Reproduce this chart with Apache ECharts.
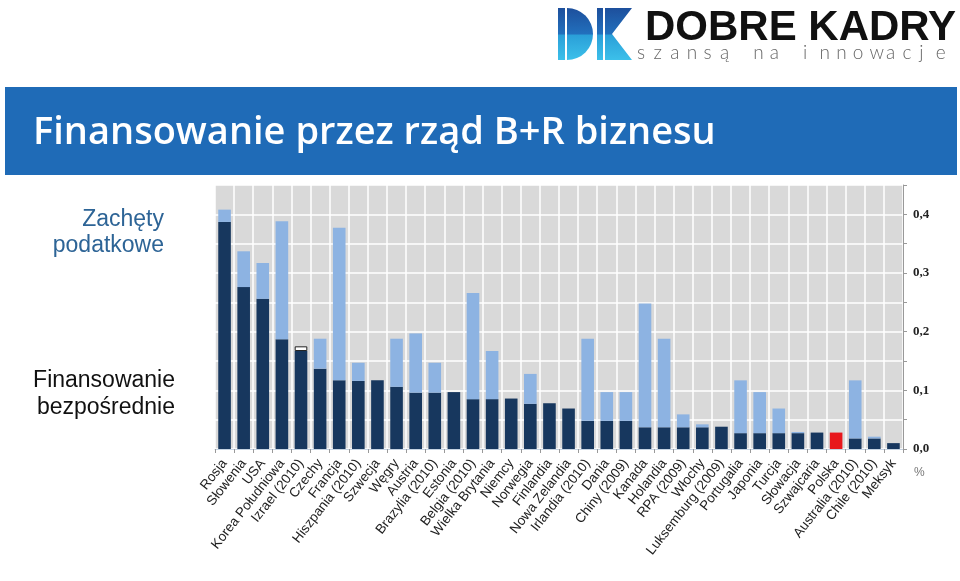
<!DOCTYPE html>
<html>
<head>
<meta charset="utf-8">
<title>Finansowanie przez rząd B+R biznesu</title>
<script src="https://cdn.jsdelivr.net/npm/echarts@6/dist/echarts.min.js"></script>
<style>
	html, body { margin: 0; padding: 0; background: #fff; }
	#chart { width: 960px; height: 581px; }
</style>
</head>
<body>
<div id="chart"></div>
<script>
// kraje (kolejność jak na wykresie)
const countries = [
	'Rosja', 'Słowenia', 'USA', 'Korea Południowa', 'Izrael (2010)', 'Czechy', 'Francja',
	'Hiszpania (2010)', 'Szwecja', 'Węgry', 'Austria', 'Brazylia (2010)', 'Estonia',
	'Belgia (2010)', 'Wielka Brytania', 'Niemcy', 'Norwegia', 'Finlandia', 'Nowa Zelandia',
	'Irlandia (2010)', 'Dania', 'Chiny (2009)', 'Kanada', 'Holandia', 'RPA (2009)', 'Włochy',
	'Luksemburg (2009)', 'Portugalia', 'Japonia', 'Turcja', 'Słowacja', 'Szwajcaria', 'Polska',
	'Australia (2010)', 'Chile (2010)', 'Meksyk'
];
// finansowanie bezpośrednie, % PKB
const directValues = [
	0.387, 0.276, 0.256, 0.187, 0.167, 0.137, 0.117,
	0.116, 0.117, 0.106, 0.096, 0.096, 0.097,
	0.085, 0.085, 0.086, 0.077, 0.078, 0.069,
	0.048, 0.048, 0.048, 0.037, 0.037, 0.037, 0.037,
	0.038, 0.027, 0.027, 0.027, 0.027, 0.028, 0.028,
	0.018, 0.018, 0.010
];
// brak podziału (biały fragment przy Izraelu)
const unknownValues = [
	0, 0, 0, 0, 0.008, 0, 0,
	0, 0, 0, 0, 0, 0,
	0, 0, 0, 0, 0, 0,
	0, 0, 0, 0, 0, 0, 0,
	0, 0, 0, 0, 0, 0, 0,
	0, 0, 0
];
// zachęty podatkowe, % PKB
const taxValues = [
	0.021, 0.061, 0.061, 0.201, 0, 0.051, 0.260,
	0.031, 0, 0.082, 0.101, 0.051, 0,
	0.181, 0.082, 0, 0.051, 0, 0,
	0.140, 0.049, 0.049, 0.211, 0.151, 0.022, 0.005,
	0, 0.090, 0.070, 0.042, 0.002, 0, 0,
	0.099, 0.003, 0
];
const yTicks = [0, 0.1, 0.2, 0.3, 0.4];

const highlight = 'Polska';
const sloganChars = 'szansą na innowacje'.split('');

const myChart = echarts.init(document.getElementById('chart'));

const logoGrad = new echarts.graphic.LinearGradient(0, 0, 0, 1, [
	{ offset: 0, color: '#1d4f9c' },
	{ offset: 0.5, color: '#2270bd' },
	{ offset: 0.52, color: '#2a9fd8' },
	{ offset: 1, color: '#3cc0ea' },
]);

const graphics = [
	// logo
	{ type: 'rect', shape: { x: 558, y: 8, width: 7, height: 52 }, style: { fill: logoGrad } },
	{
		type: 'sector',
		shape: { cx: 567, cy: 34, r0: 0, r: 26, startAngle: -Math.PI / 2, endAngle: Math.PI / 2 },
		style: { fill: logoGrad },
	},
	{ type: 'rect', shape: { x: 597, y: 8, width: 6, height: 52 }, style: { fill: logoGrad } },
	{
		type: 'polygon',
		shape: { points: [[605, 8], [632, 8], [612, 34], [632, 60], [605, 60]] },
		style: { fill: logoGrad },
	},
	{
		type: 'text',
		left: 645,
		top: 7,
		style: {
			text: 'DOBRE KADRY',
			fill: '#111',
			font: 'bold 42px "Liberation Sans", Arial, sans-serif',
		},
	},
	// pasek tytułu
	{ type: 'rect', shape: { x: 5, y: 87, width: 952, height: 88 }, style: { fill: '#1f6bb7' } },
	{
		type: 'text',
		x: 33,
		y: 133,
		style: {
			text: 'Finansowanie przez rząd B+R biznesu',
			fill: '#fff',
			font: '600 38px "Open Sans", sans-serif',
			verticalAlign: 'middle',
		},
	},
	// opisy po lewej
	{
		type: 'text',
		x: 164,
		y: 233,
		style: {
			text: 'Zachęty\npodatkowe',
			fill: '#2d6496',
			font: '23px "Liberation Sans", Arial, sans-serif',
			lineHeight: 26,
			align: 'right',
			verticalAlign: 'middle',
		},
	},
	{
		type: 'text',
		x: 175,
		y: 394,
		style: {
			text: 'Finansowanie\nbezpośrednie',
			fill: '#111',
			font: '23px "Liberation Sans", Arial, sans-serif',
			lineHeight: 27,
			align: 'right',
			verticalAlign: 'middle',
		},
	},
	{
		type: 'text',
		x: 914,
		y: 473,
		style: {
			text: '%',
			fill: '#777',
			font: '12px "Liberation Sans", Arial, sans-serif',
			verticalAlign: 'middle',
		},
	},
];
sloganChars.forEach((ch, i) => {
	graphics.push({
		type: 'text',
		x: 637 + i * 16.6,
		y: 53,
		style: {
			text: ch,
			fill: '#666',
			font: '300 19px Lato, "Open Sans", sans-serif',
			verticalAlign: 'middle',
		},
	});
});

const option = {
	animation: false,
	backgroundColor: '#fff',
	graphic: graphics,
	grid: {
		left: 215,
		right: 57,
		top: 185,
		bottom: 132,
		show: true,
		backgroundColor: '#d9d9d9',
		borderWidth: 0,
	},
	xAxis: {
		type: 'category',
		data: countries,
		axisLine: { lineStyle: { color: '#c5d3e2', width: 1 } },
		axisTick: { show: true, interval: 0, length: 4, lineStyle: { color: '#999' } },
		splitLine: { show: true, interval: 0, lineStyle: { color: '#fff', width: 1.5 } },
		axisLabel: {
			interval: 0,
			rotate: 52,
			margin: 12,
			color: '#222',
			fontSize: 13.5,
			fontFamily: '"Liberation Sans", Arial, sans-serif',
		},
	},
	yAxis: {
		type: 'value',
		position: 'right',
		min: 0,
		max: 0.45,
		interval: 0.05,
		axisLine: { show: true, lineStyle: { color: '#999' } },
		axisTick: { show: true, length: 4, lineStyle: { color: '#999' } },
		splitLine: { show: true, lineStyle: { color: '#fff', width: 1.5 } },
		axisLabel: {
			margin: 10,
			color: '#222',
			fontSize: 13,
			fontWeight: 'bold',
			fontFamily: '"Liberation Serif", "Times New Roman", serif',
			formatter: (v) => {
				const t = yTicks.find((k) => Math.abs(k - v) < 1e-6);
				return t === undefined ? '' : t.toFixed(1).replace('.', ',');
			},
		},
	},
	series: [
		{
			name: 'Finansowanie bezpośrednie',
			type: 'bar',
			stack: 'total',
			barWidth: '66%',
			data: directValues,
			itemStyle: {
				color: (p) => (p.name === highlight ? '#e8171c' : '#17375e'),
			},
		},
		{
			name: 'Brak danych',
			type: 'bar',
			stack: 'total',
			// zera pomijamy, żeby obramowanie nie rysowało kreski na innych słupkach
			data: unknownValues.map((v) => (v > 0 ? v : null)),
			itemStyle: { color: '#fff', borderColor: '#222', borderWidth: 1 },
		},
		{
			name: 'Zachęty podatkowe',
			type: 'bar',
			stack: 'total',
			data: taxValues,
			itemStyle: { color: '#8db3e2' },
		},
	],
};
option && myChart.setOption(option, true);
</script>
</body>
</html>
